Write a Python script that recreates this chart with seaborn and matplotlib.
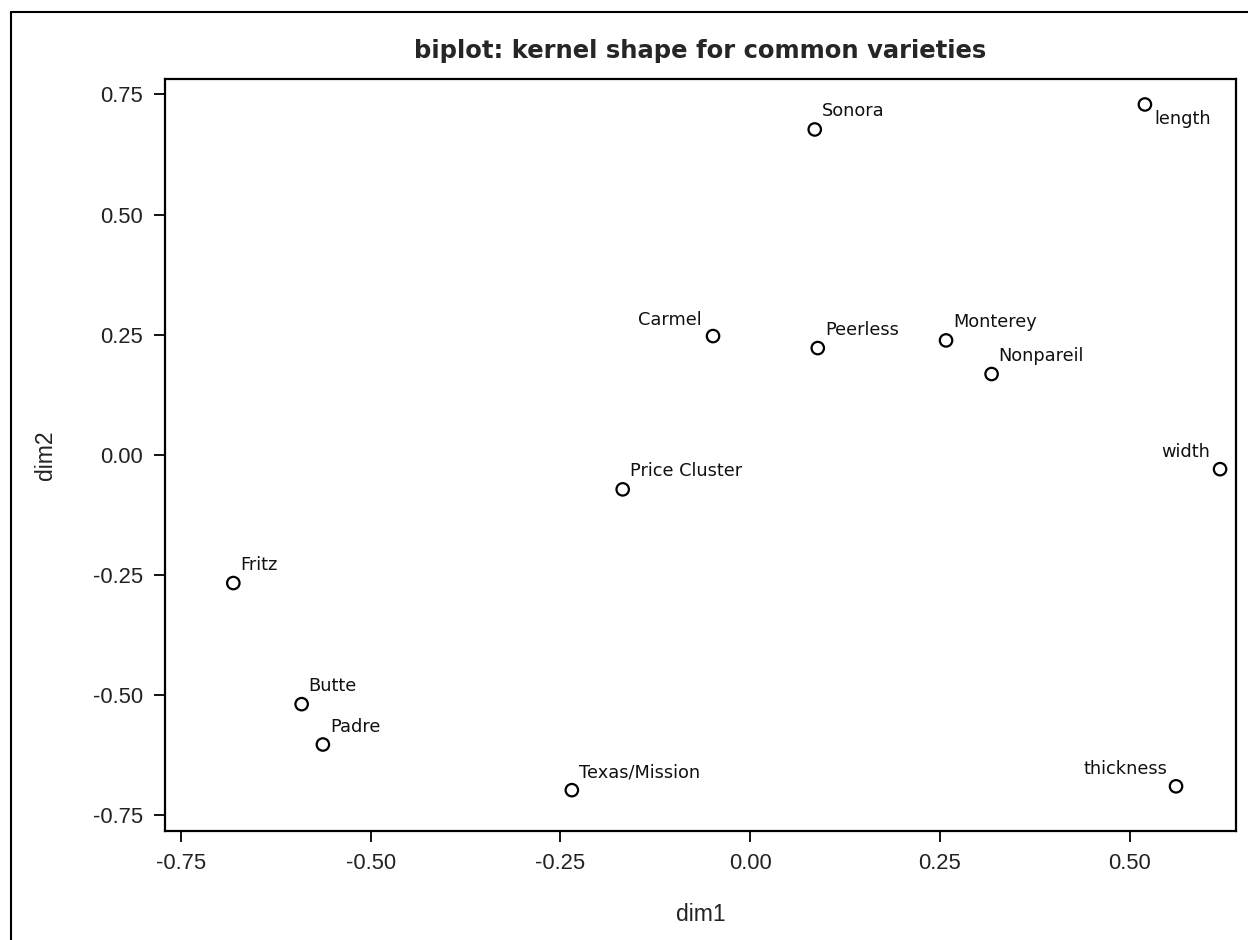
import matplotlib
matplotlib.use("Agg")
import matplotlib.pyplot as plt
import matplotlib.lines as mlines
import seaborn as sns
import pandas as pd

# Biplot coordinates: varieties (observations) and kernel-shape variables
labels = ["Sonora", "length", "Carmel", "Peerless", "Monterey", "Nonpareil",
          "width", "Price Cluster", "Fritz", "Butte", "Padre",
          "Texas/Mission", "thickness"]
dim1 = [0.085, 0.520, -0.049, 0.089, 0.258, 0.318,
        0.619, -0.168, -0.681, -0.591, -0.563,
        -0.235, 0.561]
dim2 = [0.677, 0.729, 0.247, 0.222, 0.238, 0.168,
        -0.030, -0.072, -0.267, -0.519, -0.603,
        -0.698, -0.690]

x_ticks = [-0.75, -0.50, -0.25, 0.00, 0.25, 0.50]
y_ticks = [-0.75, -0.50, -0.25, 0.00, 0.25, 0.50, 0.75]

df = pd.DataFrame({"dim1": dim1, "dim2": dim2, "label": labels})

sns.set_style("ticks")
plt.rcParams["font.family"] = ["Liberation Sans", "DejaVu Sans"]

fig = plt.figure(figsize=(12.48, 9.40), dpi=100)
ax = fig.add_axes([165 / 1248, 109 / 940, 1071 / 1248, 752 / 940])

sns.scatterplot(data=df, x="dim1", y="dim2", ax=ax, marker="o", s=80,
                facecolor="none", edgecolor="black", linewidth=1.6,
                legend=False)

# label placement: (dx, dy) in pixels, horizontal and vertical alignment
placement = {
    "Carmel": (-11, 11, "right", "baseline"),
    "width": (-10, 12, "right", "baseline"),
    "thickness": (-9, 12, "right", "baseline"),
    "length": (9, -6, "left", "top"),
}
for lab, x, y in zip(labels, dim1, dim2):
    dx, dy, ha, va = placement.get(lab, (7, 13, "left", "baseline"))
    ax.annotate(lab, (x, y), xytext=(dx, dy), textcoords="offset pixels",
                ha=ha, va=va, fontsize=12.8, family=["DejaVu Sans"],
                color="#111111")

ax.set_xlim(-0.771, 0.640)
ax.set_ylim(-0.783, 0.782)
ax.set_xticks(x_ticks)
ax.set_xticklabels([f"{t:.2f}" for t in x_ticks])
ax.set_yticks(y_ticks)
ax.set_yticklabels([f"{t:.2f}" for t in y_ticks])
ax.tick_params(direction="out", length=8, width=1.3, labelsize=15.8,
               colors="black", labelcolor="#222222", pad=8)
for sp in ax.spines.values():
    sp.set_visible(True)
    sp.set_linewidth(1.6)
    sp.set_color("black")

ax.set_xlabel("dim1", fontsize=16.5, color="#222222", labelpad=21)
ax.set_ylabel("dim2", fontsize=16.5, color="#222222", labelpad=26)
ax.set_title("biplot: kernel shape for common varieties", fontsize=17.5,
             fontweight="bold", family=["DejaVu Sans"], pad=15)

# outer frame lines along the top and left edges of the figure
fig.add_artist(mlines.Line2D([11 / 1248, 1.0], [1 - 12 / 940, 1 - 12 / 940],
                             color="black", linewidth=1.5,
                             transform=fig.transFigure))
fig.add_artist(mlines.Line2D([11 / 1248, 11 / 1248], [0.0, 1 - 12 / 940],
                             color="black", linewidth=1.5,
                             transform=fig.transFigure))

fig.savefig("out.png", dpi=100, facecolor="white")
